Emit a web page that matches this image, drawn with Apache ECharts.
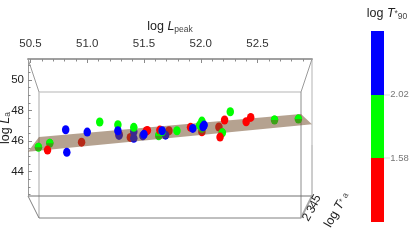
<!DOCTYPE html>
<html><head><meta charset="utf-8">
<style>html,body{margin:0;padding:0;background:#fff}#c{width:415px;height:249px}</style>
<script src="https://cdn.jsdelivr.net/npm/echarts@6/dist/echarts.min.js"></script>
</head><body><div id="c"></div>
<script>
// log L_peak, log L_a pairs; "Behind" points lie beneath the fitted plane, "Cap" points poke through it
const redFront = [[52.21,47.38],[52.40,47.27],[52.44,47.55],[52.17,46.26],[51.53,46.70],[51.52,46.66],[51.64,46.72],[51.91,46.90],[50.65,45.41]];
const redBehind = [[50.95,45.93],[51.28,46.45],[51.38,46.24],[51.72,46.68],[52.01,46.61],[52.16,46.92]];
const greenFront = [[51.11,47.25],[51.27,47.07],[51.41,46.90],[51.66,46.61],[51.79,46.68],[51.99,47.05],[52.01,47.31],[52.26,47.92]];
const greenBehind = [[50.57,45.59],[50.67,45.85],[51.63,46.35],[52.01,46.83],[52.19,46.54],[52.65,47.38],[52.86,47.44]];
const greenCap = [[50.57,45.59],[50.67,45.85],[51.63,46.35],[52.19,46.54],[52.65,47.38],[52.86,47.44]];
const blueFront = [[50.81,46.74],[50.82,45.26],[51.00,46.59],[51.27,46.68],[51.50,46.44],[51.66,46.68],[51.93,46.83],[52.02,46.94],[52.03,47.05]];
const blueBehind = [[51.28,46.37],[51.41,46.61],[51.41,46.18],[51.49,46.35],[51.69,46.39]];
const planeCorners = [[50.478,45.30],[50.575,46.26],[52.883,47.77],[52.98,47.11]];
const xTicks = [50.5,51.0,51.5,52.0,52.5];
const xMinor = [50.6,50.7,50.8,50.9,51.1,51.2,51.3,51.4,51.6,51.7,51.8,51.9,52.1,52.2,52.3,52.4,52.6,52.7,52.8,52.9];
const yTicks = [44,46,48,50];
const yMinor = [42.5,43,43.5,44.5,45,45.5,46.5,47,47.5,48.5,49,49.5,50.5,51];
const zTicks = ['2','3','4','5'];
const legendBreaks = ['2.02','1.58'];
const legendColors = ['#0000ff','#00ff00','#ff0000'];

const xRange = [50.478,52.98], yRange = [42.4,51.38];
const FONT = '"Liberation Sans", Arial, sans-serif';
const chart = echarts.init(document.getElementById('c'),null,{renderer:'canvas'});
const scatter = (data,color,z)=>({type:'scatter',data,symbol:'circle',symbolSize:[7.5,9],z,
  itemStyle:{color,opacity:1},silent:true,clip:false,animation:false});
const cap = (data,color,z)=>({type:'scatter',data,symbol:'path://M0 10 A10 10 0 0 1 20 10 Z',symbolKeepAspect:false,symbolSize:[7.5,4.5],symbolOffset:[0,-2.25],z,
  itemStyle:{color,opacity:1},silent:true,clip:false,animation:false});
const ln=(x1,y1,x2,y2,c,w)=>({type:'line',z:-1,silent:true,shape:{x1,y1,x2,y2},style:{stroke:c,lineWidth:w||1}});
const tx=(t,x,y,o)=>Object.assign({type:'text',z:5,silent:true,x,y,style:Object.assign({text:t,fill:'#222',font:'12px '+FONT,align:'center',verticalAlign:'middle'},o&&o.style)},o&&o.el);
const rot=Math.PI/3;
const xAx=(vals,len,labels)=>({type:'value',position:'top',min:xRange[0],max:xRange[1],
  axisLine:{show:true,onZero:false,lineStyle:{color:'#9a9a9a',width:1.5}},splitLine:{show:false},
  axisTick:{show:true,inside:true,length:len,customValues:vals,lineStyle:{color:'#8a8a8a'}},
  axisLabel:{show:labels,customValues:vals,margin:9,color:'#333',fontSize:11.5,fontFamily:FONT,formatter:v=>v.toFixed(1)}});
const yAx=(vals,len,labels)=>({type:'value',position:'left',min:yRange[0],max:yRange[1],
  axisLine:{show:true,onZero:false,lineStyle:{color:'#9a9a9a',width:1}},splitLine:{show:false},
  axisTick:{show:true,inside:true,length:len,customValues:vals,lineStyle:{color:'#8a8a8a'}},
  axisLabel:{show:labels,customValues:vals,margin:4,color:'#222',fontSize:11.5,fontFamily:FONT,formatter:v=>String(v)}});
const titleRich={a:{font:'12.5px '+FONT,fill:'#222'},b:{font:'italic 12.5px '+FONT,fill:'#222'},c:{font:'8.5px '+FONT,fill:'#444',padding:[5,0,0,0]}};
chart.setOption({
  animation:false,backgroundColor:'#fff',
  grid:{left:28,right:103,top:59,bottom:53,containLabel:false},
  xAxis:[xAx(xTicks,4,true),xAx(xMinor,2.5,false)],
  yAxis:[yAx(yTicks,4,true),yAx(yMinor,2.5,false)],
  series:[
    scatter(redBehind,'#ff0000',2),scatter(greenBehind,'#00ff00',2),scatter(blueBehind,'#0000ff',2),
    {type:'custom',z:3,silent:true,clip:false,data:[0],
     renderItem:(p,api)=>({type:'polygon',shape:{points:planeCorners.map(c=>api.coord(c))},style:{fill:'rgba(114,78,44,0.525)'}})},
    cap(greenCap,'#00ff00',4),
    scatter(redFront,'#ff0000',4),scatter(greenFront,'#00ff00',4),scatter(blueFront,'#0000ff',4)
  ],
  graphic:[
    ln(39,92,301,92,'#b5b5b5',1.2),ln(39,92,39,218,'#c4c4c4',1.5),ln(301,92,301,218,'#8c8c8c',1),
    ln(39,218,301,218,'#808080',1),ln(28,196,312,196,'#707070',1),ln(312,59,312,145,'#cccccc',1.5),ln(312,145,312,196,'#9a9a9a',1),
    ln(28,59,39,92,'#9a9a9a',1),ln(312,59,301,92,'#9a9a9a',1),ln(28,196,39,218,'#808080',1),ln(312,196,301,218,'#a8a8a8',2),
    tx('{a|log }{b|L}{c|peak}',170,27,{style:{rich:titleRich}}),
    tx('{a|log }{b|L}{c|a}',5.5,128,{el:{rotation:Math.PI/2},style:{rich:titleRich}}),
    tx(zTicks[3],316.5,198.5,{el:{rotation:rot}}),
    tx(zTicks[2],314,204.5,{el:{rotation:rot}}),
    tx(zTicks[1],311.5,209.5,{el:{rotation:rot}}),
    tx(zTicks[0],307,217.5,{el:{rotation:rot}}),
    tx('{a|log }{b|T}{d|*}{d| a}',337,210,{el:{rotation:rot},style:{rich:{a:titleRich.a,b:titleRich.b,d:{font:'8.5px '+FONT,fill:'#444'}}}}),
    tx('{a|log }{b|T}{d|*}{c|90}',387,14,{style:{rich:{a:titleRich.a,b:titleRich.b,d:{font:'8.5px '+FONT,fill:'#444'},c:titleRich.c}}}),
    {type:'rect',silent:true,shape:{x:371,y:31,width:13,height:64},style:{fill:legendColors[0]}},
    {type:'rect',silent:true,shape:{x:371,y:95,width:13,height:63},style:{fill:legendColors[1]}},
    {type:'rect',silent:true,shape:{x:371,y:158,width:13,height:64},style:{fill:legendColors[2]}},
    ln(384,95,390,95,'#dddddd',1),ln(384,158,390,158,'#dddddd',1),
    tx(legendBreaks[0],399.5,94.5,{style:{fill:'#777',font:'9.5px '+FONT}}),
    tx(legendBreaks[1],399.5,158,{style:{fill:'#777',font:'9.5px '+FONT}})
  ]
});
</script></body></html>
